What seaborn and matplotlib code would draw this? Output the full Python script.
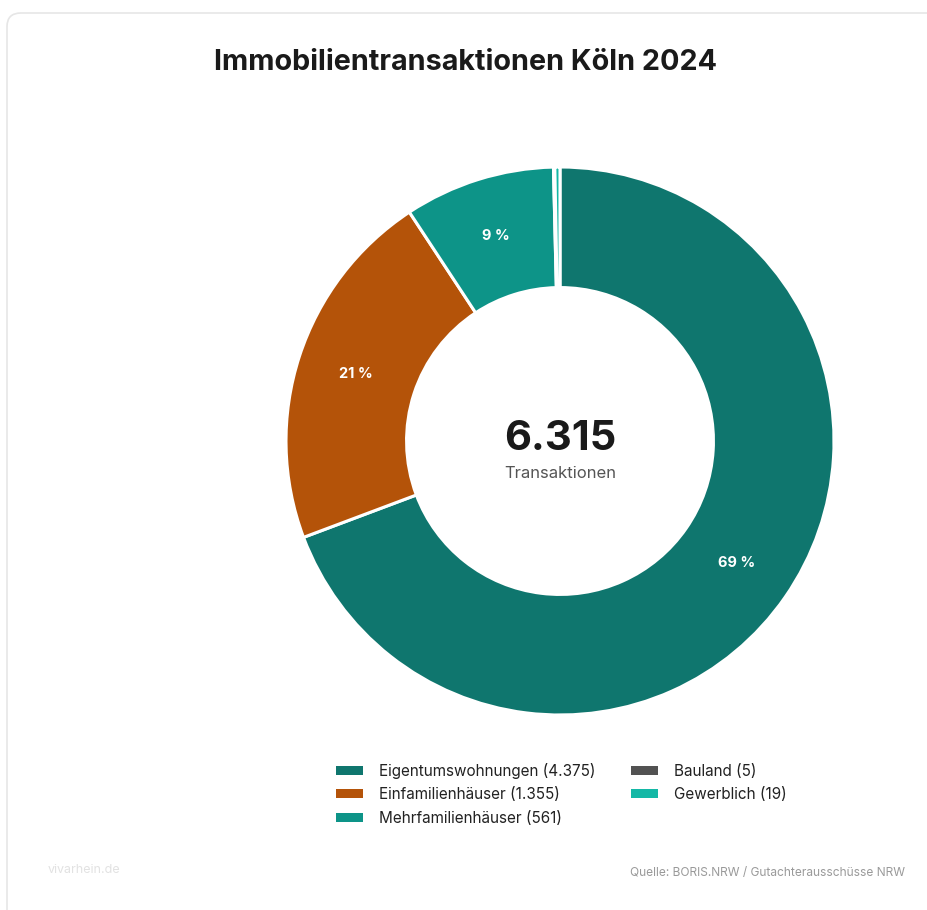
import matplotlib
matplotlib.use("Agg")
import matplotlib.pyplot as plt
from matplotlib.patches import FancyBboxPatch, Patch
import numpy as np
import seaborn as sns

categories = ["Eigentumswohnungen", "Einfamilienhäuser", "Mehrfamilienhäuser", "Bauland", "Gewerblich"]
values = [4375, 1355, 561, 5, 19]
value_labels = ["4.375", "1.355", "561", "5", "19"]
pct_labels = ["69 %", "21 %", "9 %", "", ""]
colors = ["#0f766e", "#b45309", "#0d9488", "#525252", "#14b8a6"]
total_label = "6.315"

sns.set_theme(style="white")
plt.rcParams["font.family"] = ["Inter", "DejaVu Sans"]

W, H = 928, 910
fig = plt.figure(figsize=(W / 100, H / 100), dpi=100)
fig.patch.set_facecolor("white")

# card border
card = FancyBboxPatch((7 / W, -0.05), 1.1, (H - 13) / H + 0.05,
                      boxstyle="round,pad=0,rounding_size=0.015",
                      transform=fig.transFigure, facecolor="none",
                      edgecolor="#e6e6e6", linewidth=1.2, zorder=-1)
fig.patches.append(card)

cx, cy, R = 560, 441, 274
ax = fig.add_axes([(cx - R) / W, (H - cy - R) / H, 2 * R / W, 2 * R / H])
ax.set_zorder(2)

wedges, texts = ax.pie(values, colors=colors, startangle=90, counterclock=False,
                       radius=1.0,
                       wedgeprops=dict(width=0.44, edgecolor="white", linewidth=2.2))
ax.set_xlim(-1, 1)
ax.set_ylim(-1, 1)
ax.set_aspect("equal")
ax.axis("off")

total = sum(values)
cum = 0
for v, lab in zip(values, pct_labels):
    mid = 90.0 - (cum + v / 2) / total * 360
    cum += v
    if lab:
        r = 0.785
        ax.text(r * np.cos(np.radians(mid)), r * np.sin(np.radians(mid)), lab,
                ha="center", va="center", color="white", fontsize=10.5, fontweight="bold")

ax.text(0, -0.033, total_label, ha="center", va="baseline", fontsize=30, fontweight="bold", color="#1a1a1a")
ax.text(0, -0.117, "Transaktionen", ha="center", va="center", fontsize=12, color="#555555")

fig.text(466 / W, 1 - 63 / H, "Immobilientransaktionen Köln 2024", ha="center", va="center",
         fontsize=20.7, fontweight="bold", color="#1a1a1a")

handles = [Patch(facecolor=c, edgecolor="none") for c in colors]
labels = [f"{c} ({v})" for c, v in zip(categories, value_labels)]
fig.legend(handles, labels, ncol=2, loc="upper left",
           bbox_to_anchor=(322 / W, 1 - 749 / H), frameon=False,
           fontsize=11, handlelength=1.8, handleheight=0.55, handletextpad=1.05,
           columnspacing=2.3, labelspacing=0.55, labelcolor="#222222")

fig.text(48 / W, 1 - 870 / H, "vivarhein.de", ha="left", va="center", fontsize=9, color="#e2e2e2")
fig.text(905 / W, 1 - 873 / H, "Quelle: BORIS.NRW / Gutachterausschüsse NRW", ha="right", va="center",
         fontsize=8.6, color="#9a9a9a")

fig.savefig("out.png", dpi=100, facecolor="white")
